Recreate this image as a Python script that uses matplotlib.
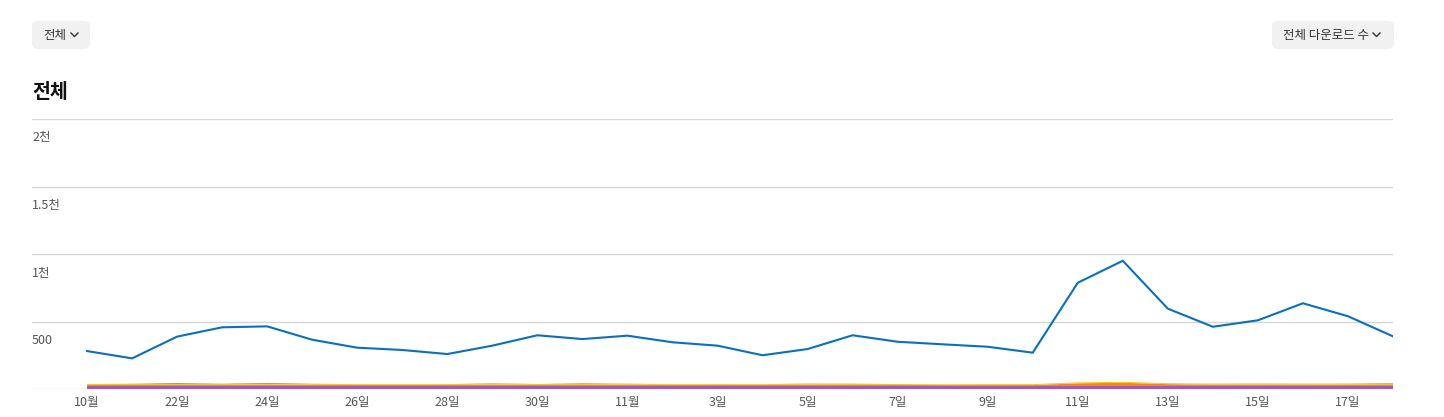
import numpy as np
import matplotlib.pyplot as plt
from matplotlib.patches import FancyBboxPatch
from matplotlib.lines import Line2D
import matplotlib.transforms as mtransforms

plt.rcParams['font.family'] = ['Noto Sans CJK KR', 'DejaVu Sans']

# daily downloads, Oct 20 .. Nov 18
days = np.arange(30)
total = [281, 227, 388, 457, 464, 365, 306, 289, 259, 321,
         398, 370, 395, 346, 321, 250, 296, 398, 350, 331,
         313, 269, 787, 950, 595, 461, 509, 635, 539, 390]

# small series shown stacked along the bottom
purple = [22, 22, 22, 22, 22, 22, 22, 22, 22, 22,
          22, 22, 22, 22, 22, 22, 22, 22, 22, 22,
          22, 22, 22, 22, 22, 22, 22, 22, 22, 22]
orange = [8, 8, 8, 8, 11, 9, 8, 8, 8, 10,
          8, 8, 10, 8, 8, 8, 9, 8, 8, 7,
          7, 7, 20, 24, 14, 10, 10, 10, 9, 8]
yellow = [7, 8, 6, 6, 6, 7, 6, 6, 6, 7,
          6, 7, 7, 6, 6, 6, 7, 7, 6, 6,
          7, 7, 7, 7, 7, 7, 7, 7, 7, 6]
green = [0, 1, 8, 2, 0, 0, 0, 0, 0, 0,
         1, 5, 1, 0, 0, 0, 0, 2, 1, 0,
         0, 0, 0, 0, 0, 1, 2, 1, 2, 6]
red = [0, 0, 0, 1, 6, 1, 0, 0, 0, 3,
       0, 0, 0, 0, 0, 0, 2, 0, 0, 0,
       0, 0, 0, 0, 0, 0, 0, 0, 0, 0]

tick_pos = days[::2]
tick_labels = ['10월', '22일', '24일', '26일', '28일', '30일', '11월', '3일',
               '5일', '7일', '9일', '11일', '13일', '15일', '17일']
y_ticks = [500, 1000, 1500, 2000]
y_labels = ['500', '1천', '1.5천', '2천']

W, H = 1444, 417
fig = plt.figure(figsize=(W / 100, H / 100), dpi=100)
ax = fig.add_axes([32 / W, 28 / H, (1393 - 32) / W, (389 - 119) / H])

ax.stackplot(days, purple, orange, yellow, green, red,
             colors=['#a857b4', '#f08c0f', '#f5c518', '#6fb34a', '#ea5a3c'],
             linewidth=0)
ax.plot(days, total, color='#0b6fbf', lw=1.5, solid_joinstyle='miter')

ax.set_xlim(-55 / 45, 29)
ax.set_ylim(0, 2000)
ax.set_yticks([0] + y_ticks)
ax.yaxis.grid(True, color='#d6d6d6', lw=1)
ax.set_axisbelow(True)
ax.tick_params(axis='y', length=0, labelleft=False)
for s in ax.spines.values():
    s.set_visible(False)

trans = mtransforms.blended_transform_factory(ax.transAxes, ax.transData)
for v, lab in zip(y_ticks, y_labels):
    ax.annotate(lab, (0, v), xycoords=trans, xytext=(0, -9),
                textcoords='offset points', ha='left', va='top',
                fontsize=9, color='#555555')

ax.set_xticks(tick_pos)
ax.set_xticklabels(tick_labels, fontsize=9, color='#555555')
ax.tick_params(axis='x', length=0, pad=5)

# title
fig.text(32 / W, 1 - 92 / H, '전체', fontsize=14, fontweight='bold',
         color='#111111', va='center', ha='left')


def button(x0, x1, label, tx, cx):
    y0, y1 = 21, 49
    box = FancyBboxPatch((x0 / W, 1 - y1 / H), (x1 - x0) / W, (y1 - y0) / H,
                         boxstyle='round,pad=0,rounding_size=0.004',
                         transform=fig.transFigure, facecolor='#f1f1f1',
                         edgecolor='none', mutation_aspect=W / H)
    fig.patches.append(box)
    fig.text(tx / W, 1 - 35 / H, label, fontsize=9, color='#333333',
             va='center', ha='left')
    fig.lines.append(Line2D([cx / W, (cx + 3.5) / W, (cx + 7) / W],
                            [1 - 33 / H, 1 - 36.5 / H, 1 - 33 / H],
                            transform=fig.transFigure, color='#333333', lw=1.0))


button(32, 90, '전체', 43, 71)
button(1272, 1394, '전체 다운로드 수', 1283, 1373)

fig.savefig('out.png', dpi=100)
